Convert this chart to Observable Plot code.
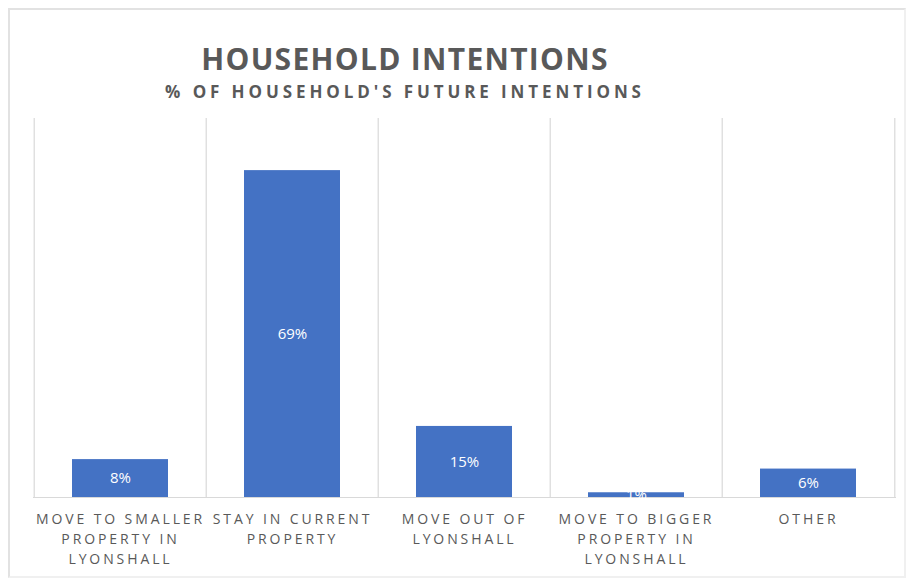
<!DOCTYPE html>
<html>
<head>
<meta charset="utf-8">
<script src="https://cdn.jsdelivr.net/npm/d3@7"></script>
<script src="https://cdn.jsdelivr.net/npm/@observablehq/plot@0.6"></script>
<style>
  html, body { margin: 0; padding: 0; background: #fff; }
  #wrap { position: relative; width: 908px; height: 578px; overflow: hidden; font-family: "Open Sans", sans-serif; }
  #border { position: absolute; left: 8px; top: 8px; width: 894px; height: 566px; border: 2px solid #e2e2e2; border-right-color: #f0f0f0; border-bottom-color: #f0f0f0; }
  .title { position: absolute; left: 0; width: 810px; text-align: center; color: #595959; font-weight: 700; white-space: nowrap; }
  #t1 { top: 38px; font-size: 30px; letter-spacing: 1.3px; }
  #t2 { top: 80px; font-size: 17px; letter-spacing: 3.9px; }
  #chart { position: absolute; left: 0; top: 0; }
  #chart g[aria-label="x-axis tick label"] text { letter-spacing: 2.9px; }
</style>
</head>
<body>
<div id="wrap">
  <div id="border"></div>
  <div id="chart"></div>
  <div class="title" id="t1">HOUSEHOLD INTENTIONS</div>
  <div class="title" id="t2">% OF HOUSEHOLD'S FUTURE INTENTIONS</div>
</div>
<script>
const categories = [
  "Move to smaller property in Lyonshall",
  "Stay in current property",
  "Move out of Lyonshall",
  "Move to bigger property in Lyonshall",
  "Other"
];
const values = [8, 69, 15, 1, 6];
const valueLabels = ["8%", "69%", "15%", "1%", "6%"];
const tickLabels = [
  "MOVE TO SMALLER\nPROPERTY IN\nLYONSHALL",
  "STAY IN CURRENT\nPROPERTY",
  "MOVE OUT OF\nLYONSHALL",
  "MOVE TO BIGGER\nPROPERTY IN\nLYONSHALL",
  "OTHER"
];

const data = categories.map((c, i) => ({category: c, value: values[i], label: valueLabels[i]}));

const W = 908, H = 578, ML = 33, MR = 12, MT = 118, MB = 81;
const step = (W - ML - MR) / categories.length;

const chart = Plot.plot({
  width: W,
  height: H,
  marginLeft: ML,
  marginRight: MR,
  marginTop: MT,
  marginBottom: MB,
  style: {fontFamily: "Open Sans, sans-serif", color: "#595959", background: "transparent"},
  x: {domain: categories, paddingInner: 0.44, paddingOuter: 0.22},
  y: {domain: [0, 80], axis: null},
  marks: [
    Plot.ruleX(categories, {x: d => d, dx: -step / 2, stroke: "#d9d9d9", strokeWidth: 1.2}),
    Plot.ruleX(categories.slice(-1), {x: d => d, dx: step / 2, stroke: "#d9d9d9", strokeWidth: 1.2}),
    Plot.ruleY([0], {stroke: "#d9d9d9", strokeWidth: 1.2}),
    Plot.barY(data, {x: "category", y: "value", fill: "#4472c4"}),
    Plot.text(data, {x: "category", y: d => d.value / 2, text: "label", fill: "white", fontSize: 15}),
    Plot.axisX({
      tickSize: 0,
      tickPadding: 13,
      fontSize: 14,
      lineHeight: 1.4,
      tickFormat: d => tickLabels[categories.indexOf(d)],
      label: null
    })
  ]
});
document.getElementById("chart").appendChild(chart);
</script>
</body>
</html>
